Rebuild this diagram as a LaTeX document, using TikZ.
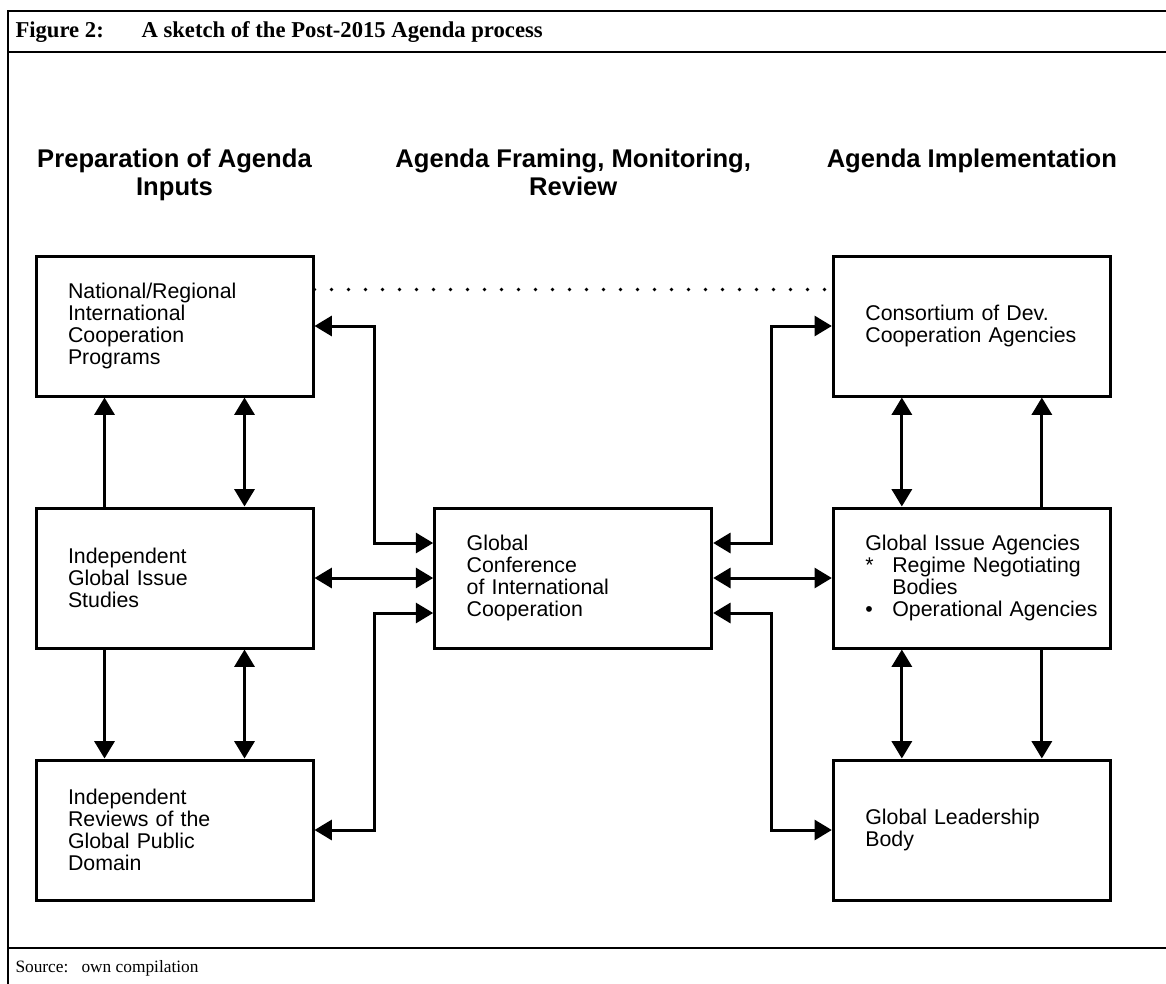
\documentclass[tikz,border=0pt]{standalone}
\usepackage{fontspec}
\setmainfont{Liberation Serif}
\setsansfont{Liberation Sans}
\usetikzlibrary{arrows.meta}

\begin{document}
\begin{tikzpicture}[x=0.75pt, y=-0.75pt, node distance={189pt}, line width=2.25pt,
    >={Triangle[length=13pt, width=15pt]},
    main/.style = {draw, minimum width=207.75pt, minimum height=105pt, text width=159.75pt,
      inner xsep=24pt, inner ysep=0pt, align=left, font=\sffamily\fontsize{16}{16.5}\selectfont},
    head/.style = {anchor=north, inner sep=0pt, align=center, font=\sffamily\bfseries\fontsize{19.2}{21}\selectfont},
    frame/.style = {line width=2pt}]
  \useasboundingbox (0,0) rectangle (1166,984);

  % frame, title and source
  \draw[frame] (8,986) -- (8,11) -- (1170,11);
  \draw[frame] (8,52) -- (1170,52);
  \draw[frame] (8,948) -- (1170,948);
  \node[anchor=base west, inner sep=0pt, font=\bfseries\fontsize{17}{20}\selectfont] (fig) at (14,38) {Figure 2:};
  \node[anchor=base west, inner sep=0pt, font=\bfseries\fontsize{17}{20}\selectfont] (title) at (140,38) {A sketch of the Post-2015 Agenda process};
  \node[anchor=base west, inner sep=0pt, font=\fontsize{13}{15}\selectfont] (src) at (14,972) {Source:};
  \node[anchor=base west, inner sep=0pt, font=\fontsize{13}{15}\selectfont] (own) at (80,972) {own compilation};

  \node[main] (1) at (174.5,326) {National/Regional\\International\\Cooperation\\Programs};
  \node[main] (2) [below of=1] {Independent\\Global Issue\\Studies};
  \node[main] (3) [below of=2] {Independent\\Reviews of the\\Global Public\\Domain};
  \node[main] (4) [node distance=299pt, right of=2] {Global\\Conference\\of International\\Cooperation};
  \node[main] (6) [node distance=299pt, right of=4] {\mbox{Global Issue Agencies}\\
    \makebox[20.25pt][l]{*}\mbox{Regime Negotiating}\\
    \hspace*{20.25pt}Bodies\\
    \makebox[20.25pt][l]{\textbullet}\mbox{Operational Agencies}};
  \node[main] (5) [above of=6] {Consortium of Dev.\\\mbox{Cooperation Agencies}};
  \node[main] (7) [below of=6] {Global Leadership\\Body};

  % column headings
  \coordinate (headline) at (0,147);
  \node[head] (h1) at (1 |- headline) {Preparation of Agenda\\Inputs};
  \node[head] (h2) at (4 |- headline) {Agenda Framing, Monitoring,\\Review};
  \node[head] (h3) at (5 |- headline) {Agenda Implementation};

  % left column
  \draw[->] ([xshift=52.5pt]2.north west) -- ([xshift=52.5pt]1.south west);
  \draw[<->] ([xshift=-52.5pt]1.south east) -- ([xshift=-52.5pt]2.north east);
  \draw[->] ([xshift=52.5pt]2.south west) -- ([xshift=52.5pt]3.north west);
  \draw[<->] ([xshift=-52.5pt]2.south east) -- ([xshift=-52.5pt]3.north east);
  % right column
  \draw[<->] ([xshift=52.5pt]5.south west) -- ([xshift=52.5pt]6.north west);
  \draw[->] ([xshift=-52.5pt]6.north east) -- ([xshift=-52.5pt]5.south east);
  \draw[<->] ([xshift=52.5pt]6.south west) -- ([xshift=52.5pt]7.north west);
  \draw[->] ([xshift=-52.5pt]6.south east) -- ([xshift=-52.5pt]7.north east);
  % links to the conference
  \draw[<->] (1.east) -- ++(60,0) |- ([yshift=26.25pt]4.west);
  \draw[<->] (2.east) -- (4.west);
  \draw[<->] (3.east) -- ++(60,0) |- ([yshift=-26.25pt]4.west);
  \draw[<->] (5.west) -- ++(-60,0) |- ([yshift=26.25pt]4.east);
  \draw[<->] (6.west) -- (4.east);
  \draw[<->] (7.west) -- ++(-60,0) |- ([yshift=-26.25pt]4.east);
  % dotted link
  \draw[line width=2.8pt, line cap=round, dash pattern=on 0pt off 12.75pt] ([yshift=-26.25pt]1.north east) -- ([yshift=-26.25pt]5.north west);
\end{tikzpicture}
\end{document}
